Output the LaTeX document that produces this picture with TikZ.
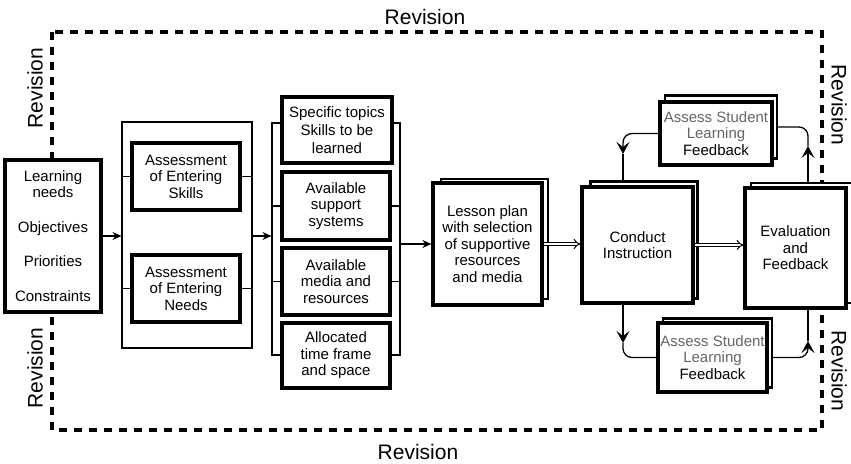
\documentclass[tikz,border=0pt]{standalone}
\usepackage{fontspec}
\setmainfont{Liberation Sans}
\usetikzlibrary{arrows.meta}
\begin{document}
\begin{tikzpicture}[x=1pt,y=-1pt,
  box/.style={draw, line width=3.2pt, fill=white, align=center, inner sep=0pt,
    font=\fontsize{15}{16.5}\selectfont},
  sheet/.style={draw, line width=2.4pt, fill=white, inner sep=0pt},
  bracketframe/.style={draw, line width=1.1pt},
  stub/.style={line width=1.1pt},
  conn/.style={line width=1.3pt, -{Stealth[length=9pt,width=8pt,inset=3pt]}},
  dconn/.style={double, double distance=2.4pt, line width=1pt, -{Implies[length=6pt]}},
  loopline/.style={line width=1.3pt, rounded corners=9pt},
  looparrow/.style={loopline, -{Stealth[length=12pt,width=13pt,inset=5pt]}},
  rev/.style={inner sep=0pt, font=\fontsize{21}{21}\selectfont},
  revframe/.style={line width=3.4pt, dash pattern=on 8pt off 7pt}
]
\useasboundingbox (0,0) rectangle (851,463);

% dashed revision frame
\draw[revframe] (52,32) rectangle (822,430);

% revision labels
\node[rev] (revT) at (425,17) {Revision};
\node[rev] (revB) at (418,452) {Revision};
\node[rev, rotate=90] (revL1) at (35,88) {Revision};
\node[rev, rotate=90] (revL2) at (35,368) {Revision};
\node[rev, rotate=-90] (revR1) at (839,105) {Revision};
\node[rev, rotate=-90] (revR2) at (839,371) {Revision};

% bracket frames
\node[bracketframe, minimum width=130pt, minimum height=226pt, inner sep=0pt] (brackA) at (187,235) {};
\node[bracketframe, minimum width=128pt, minimum height=232pt, inner sep=0pt] (brackB) at (336,239) {};

% first column
\node[box, minimum width=96pt, minimum height=152pt] (learn) at (53,236)
  {Learning\\needs\\[18pt]Objectives\\[18pt]Priorities\\[18pt]Constraints};

% assessments
\node[box, minimum width=108pt, minimum height=67pt] (skills) at (186,176.5)
  {Assessment\\of Entering\\Skills};
\node[box, minimum width=108pt, minimum height=67pt] (needs) at (186,288.5)
  {Assessment\\of Entering\\Needs};

% resources column
\node[box, minimum width=110pt, minimum height=66pt, font=\fontsize{15}{18}\selectfont] (topics) at (337,130)
  {Specific topics\\Skills to be\\learned};
\node[box, minimum width=108pt, minimum height=68pt] (support) at (336,206)
  {Available\\support\\systems};
\node[box, minimum width=108pt, minimum height=67pt] (media) at (336,281.5)
  {Available\\media and\\resources};
\node[box, minimum width=108pt, minimum height=65pt] (alloc) at (336,355.5)
  {Allocated\\time frame\\and space};

% back sheets of stacked boxes
\node[sheet, minimum width=107pt, minimum height=120pt] (lessonS) at (494.5,239) {};
\node[sheet, minimum width=107pt, minimum height=117pt] (conductS) at (644,240) {};
\node[sheet, minimum width=101pt, minimum height=120pt] (evalS) at (801.5,243) {};
\node[sheet, minimum width=112pt, minimum height=63pt] (assessTS) at (721,127) {};
\node[sheet, minimum width=109pt, minimum height=69pt] (assessBS) at (717.5,353) {};

% lesson plan, instruction, evaluation
\node[box, minimum width=109pt, minimum height=122pt] (lesson) at (487.5,244)
  {Lesson plan\\with selection\\of supportive\\resources\\and media};
\node[box, minimum width=111pt, minimum height=116pt] (conduct) at (637.5,245)
  {Conduct\\Instruction};
\node[box, minimum width=101pt, minimum height=120pt] (eval) at (795.5,248)
  {Evaluation\\and\\Feedback};

% feedback boxes
\node[box, minimum width=112pt, minimum height=63pt] (assessT) at (716,133.5)
  {\textcolor{black!60}{Assess Student}\\\textcolor{black!60}{Learning}\\Feedback};
\node[box, minimum width=109pt, minimum height=69pt] (assessB) at (712.5,357.5)
  {\textcolor{black!60}{Assess Student}\\\textcolor{black!60}{Learning}\\Feedback};

% stubs
\draw[stub] (skills.west) -- (skills.west -| brackA.west);
\draw[stub] (skills.east) -- (skills.east -| brackA.east);
\draw[stub] (needs.west) -- (needs.west -| brackA.west);
\draw[stub] (needs.east) -- (needs.east -| brackA.east);
\draw[stub] (support.west) -- (support.west -| brackB.west);
\draw[stub] (support.east) -- (support.east -| brackB.east);
\draw[stub] (media.west) -- (media.west -| brackB.west);
\draw[stub] (media.east) -- (media.east -| brackB.east);

% main flow
\draw[conn] (learn.east) -- (learn.east -| brackA.west);
\draw[conn] (brackA.east |- learn.east) -- (learn.east -| brackB.west);
\draw[conn] (lesson.west -| brackB.east) -- (lesson.west);
\draw[dconn] (lesson.east) -- (lesson.east -| conduct.west);
\draw[dconn] (conduct.east) -- (conduct.east -| eval.west);

% feedback loops (arrowheads midway on the vertical legs)
\coordinate (tlA) at (623,154);
\coordinate (trA) at (808,146);
\coordinate (blA) at (623,343);
\coordinate (brA) at (808,341);
\draw[looparrow] (assessT.west) -| (tlA);
\draw[loopline] (tlA) -- (tlA |- conductS.north);
\draw[looparrow] (trA |- evalS.north) -- (trA);
\draw[loopline] (trA) |- (assessTS.east);
\draw[looparrow] (blA |- conduct.south) -- (blA);
\draw[loopline] (blA) |- (assessB.west);
\draw[looparrow] (assessBS.east |- assessB.east) -| (brA);
\draw[loopline] (brA) -- (brA |- eval.south);
\end{tikzpicture}
\end{document}
